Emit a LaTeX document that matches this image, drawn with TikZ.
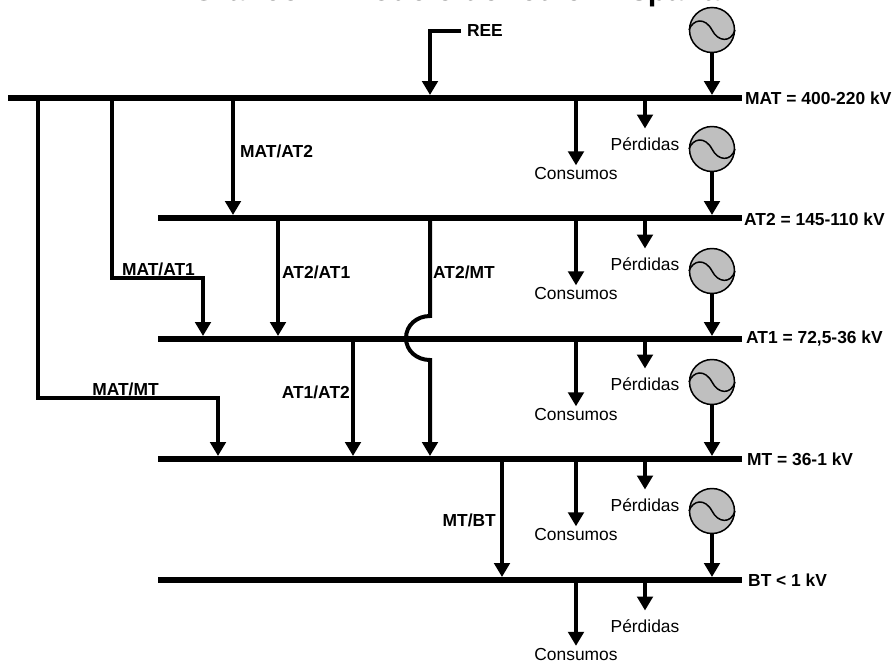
\documentclass[tikz,border=0pt]{standalone}
\usepackage{fontspec}
\setmainfont{Liberation Sans}
\usetikzlibrary{arrows.meta}
\tikzset{
  busbar/.style={fill=black,inner sep=0pt,outer sep=0pt,minimum height=6pt},
  feed/.style={line width=4pt,-{Triangle[length=14pt,width=15.5pt]}},
  gen/.style={circle,draw=black,line width=1.5pt,fill=black!25,minimum size=45pt,inner sep=0pt,outer sep=0pt},
  wave/.style={line width=1.5pt},
  lab/.style={font=\fontsize{17.4}{20}\selectfont\bfseries,inner sep=0pt},
  perd/.style={font=\fontsize{17.4}{20}\selectfont,inner sep=0pt,outer sep=9pt},
  cons/.style={font=\fontsize{17.4}{20}\selectfont,inner sep=0pt,outer sep=2.5pt}
}
\newcommand{\genwave}[1]{\draw[wave,shift={(#1)}] (-23,0) .. controls (-19,-11) and (-7,-13) .. (0,0) .. controls (6,12) and (19,13) .. (23,0);}
\begin{document}
\begin{tikzpicture}[x=1pt,y=-1pt]
\useasboundingbox (0,0) rectangle (895,662);

\node[font=\fontsize{31}{35}\selectfont\bfseries,anchor=base,inner sep=0pt] (title) at (456,0.5) {Gráfico 1. Modelo de red en España};

\node[busbar,minimum width=734pt] (mat) at (375,98) {};
\node[busbar,minimum width=584pt] (at2) at (450,218) {};
\node[busbar,minimum width=584pt] (at1) at (450,339) {};
\node[busbar,minimum width=584pt] (mt) at (450,459) {};
\node[busbar,minimum width=584pt] (bt) at (450,580) {};

\node[lab,anchor=west] (matv) at (745,98) {MAT = 400-220 kV};
\node[lab,anchor=west] (at2v) at (744,219) {AT2 = 145-110 kV};
\node[lab,anchor=west] (at1v) at (746,339) {AT1 = 72,5-36 kV};
\node[lab,anchor=west] (mtv) at (747,459) {MT = 36-1 kV};
\node[lab,anchor=west] (btv) at (748,580) {BT < 1 kV};

\node[gen] (gen1) at (712,30) {};
\node[gen] (gen2) at (712,149) {};
\node[gen] (gen3) at (712,271) {};
\node[gen] (gen4) at (712,382) {};
\node[gen] (gen5) at (712,511) {};
\genwave{gen1}
\genwave{gen2}
\genwave{gen3}
\genwave{gen4}
\genwave{gen5}
\draw[feed] (gen1.south) -- (gen1 |- mat.north);
\draw[feed] (gen2.south) -- (gen2 |- at2.north);
\draw[feed] (gen3.south) -- (gen3 |- at1.north);
\draw[feed] (gen4.south) -- (gen4 |- mt.north);
\draw[feed] (gen5.south) -- (gen5 |- bt.north);

\node[perd] (perd1) at (645,144) {Pérdidas};
\node[perd] (perd2) at (645,264) {Pérdidas};
\node[perd] (perd3) at (645,384) {Pérdidas};
\node[perd] (perd4) at (645,505) {Pérdidas};
\node[perd] (perd5) at (645,626) {Pérdidas};
\draw[feed] (perd1 |- mat.south) -- (perd1.north);
\draw[feed] (perd2 |- at2.south) -- (perd2.north);
\draw[feed] (perd3 |- at1.south) -- (perd3.north);
\draw[feed] (perd4 |- mt.south) -- (perd4.north);
\draw[feed] (perd5 |- bt.south) -- (perd5.north);

\node[cons] (cons1) at (576,174) {Consumos};
\node[cons] (cons2) at (576,294) {Consumos};
\node[cons] (cons3) at (576,415) {Consumos};
\node[cons] (cons4) at (576,535) {Consumos};
\node[cons] (cons5) at (576,654.5) {Consumos};
\draw[feed] (cons1 |- mat.south) -- (cons1.north);
\draw[feed] (cons2 |- at2.south) -- (cons2.north);
\draw[feed] (cons3 |- at1.south) -- (cons3.north);
\draw[feed] (cons4 |- mt.south) -- (cons4.north);
\draw[feed] (cons5 |- bt.south) -- (cons5.north);

\node[lab,anchor=west,outer sep=6pt] (ree) at (461,31) {REE};
\coordinate (reec) at (430,31);
\draw[feed] (ree.west) -- (reec) -- (reec |- mat.north);

\coordinate (matat2) at (233,98);
\draw[feed] (matat2) -- (matat2 |- at2.north);
\node[lab,anchor=west] (matat2l) at (240,151) {MAT/AT2};

\coordinate (matat1) at (112,98);
\coordinate (matat1c) at (203,278);
\draw[feed] (matat1) |- (matat1c) -- (matat1c |- at1.north);
\node[lab] (matat1l) at (158.5,269) {MAT/AT1};

\coordinate (matmt) at (38,98);
\coordinate (matmtc) at (218,398);
\draw[feed] (matmt) |- (matmtc) -- (matmtc |- mt.north);
\node[lab] (matmtl) at (125.5,389) {MAT/MT};

\coordinate (at2at1) at (278,218);
\draw[feed] (at2at1) -- (at2at1 |- at1.north);
\node[lab,anchor=west] (at2at1l) at (282,272) {AT2/AT1};

\coordinate (at2mt) at (430,218);
\coordinate (jumpa) at (430,316);
\coordinate (jumpb) at (430,360);
\draw[feed] (at2mt) -- (jumpa) .. controls (417,316) and (406,325) .. (406,338) .. controls (406,351) and (417,360) .. (jumpb) -- (jumpb |- mt.north);
\node[lab,anchor=west] (at2mtl) at (433,272) {AT2/MT};

\coordinate (at1at2) at (353,339);
\draw[feed] (at1at2) -- (at1at2 |- mt.north);
\node[lab,anchor=east] (at1at2l) at (350,392) {AT1/AT2};

\coordinate (mtbt) at (502,459);
\draw[feed] (mtbt) -- (mtbt |- bt.north);
\node[lab,anchor=east] (mtbtl) at (496,520) {MT/BT};
\end{tikzpicture}
\end{document}
